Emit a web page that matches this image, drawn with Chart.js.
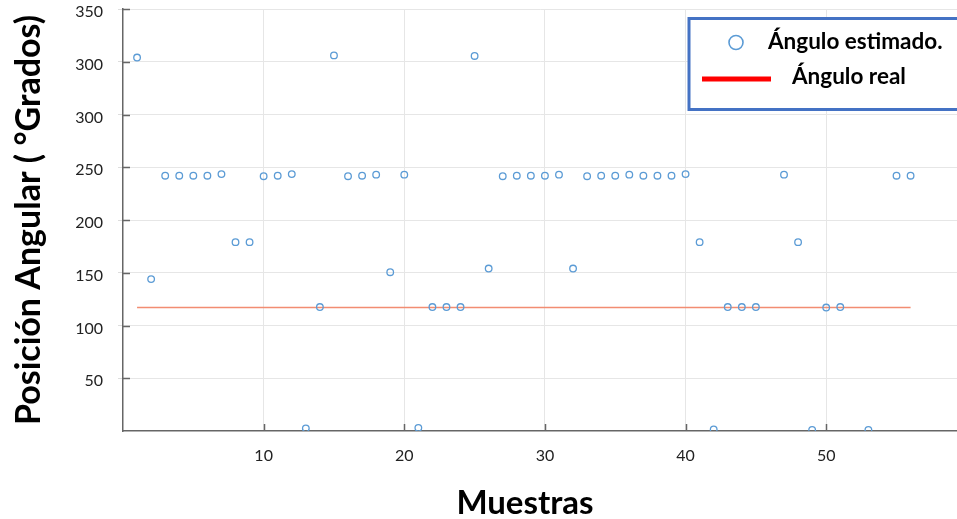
<!DOCTYPE html>
<html>
<head>
<meta charset="utf-8">
<script src="https://cdn.jsdelivr.net/npm/chart.js@4.4.1/dist/chart.umd.min.js"></script>
<style>
  html, body { margin: 0; padding: 0; background: #ffffff; overflow: hidden; width: 957px; height: 519px; }
  #wrap { width: 957px; height: 519px; position: relative; overflow: hidden; }
  canvas { display: block; }
</style>
</head>
<body>
<div id="wrap"><canvas id="c" width="957" height="519"></canvas></div>
<script>
// Sample numbers (x) and the estimated angular position for each sample (degrees)
const samples = [1, 2, 3, 4, 5, 6, 7, 8, 9, 10,
                 11, 12, 13, 14, 15, 16, 17, 18, 19, 20,
                 21, 22, 23, 24, 25, 26, 27, 28, 29, 30,
                 31, 32, 33, 34, 35, 36, 37, 38, 39, 40,
                 41, 42, 43, 44, 45, 47, 48, 49, 50, 51,
                 53, 55, 56];
const estimatedAngle = [354, 144, 242, 242, 242, 242, 243.5, 179, 179, 241.5,
                        242, 243.5, 2.5, 117.5, 356, 241.5, 242, 243, 150.5, 243,
                        3, 117.5, 117.5, 117.5, 355.5, 154, 241.5, 242, 242, 242,
                        243, 154, 241.5, 242, 242, 243, 242, 242, 242, 243.5,
                        179, 1.5, 117.5, 117.5, 117.5, 243, 179, 1, 117, 117.5,
                        1, 242, 242];

// Real (reference) angle, drawn as a flat line over the sampled range
const realSamples = [1, 56];
const realAngle = [117, 117];

const seriesNames = ['Ángulo estimado.', 'Ángulo real'];
const xTickValues = [10, 20, 30, 40, 50];
const yTickValues = [50, 100, 150, 200, 250, 300, 350, 400];
const yTickLabels = ['50', '100', '150', '200', '250', '300', '300', '350'];
const xTitle = 'Muestras';
const yTitle = 'Posición Angular ( °Grados)';

const FONT = 'Lato, "Open Sans", "Liberation Sans", sans-serif';

// Short inward tick marks on the left and bottom axes
const innerTicks = {
  id: 'innerTicks',
  afterDatasetsDraw(chart) {
    const { ctx, chartArea, scales } = chart;
    ctx.save();
    ctx.strokeStyle = '#666';
    ctx.lineWidth = 1.5;
    ctx.beginPath();
    scales.y.ticks.forEach(t => {
      const y = Math.round(scales.y.getPixelForValue(t.value)) + 0.5;
      ctx.moveTo(chartArea.left, y);
      ctx.lineTo(chartArea.left + 7, y);
    });
    scales.x.ticks.forEach(t => {
      const x = Math.round(scales.x.getPixelForValue(t.value)) + 0.5;
      ctx.moveTo(x, chartArea.bottom);
      ctx.lineTo(x, chartArea.bottom - 7);
    });
    ctx.stroke();
    ctx.restore();
  }
};

// Framed legend inside the plot, plus the x axis title
const boxLegend = {
  id: 'boxLegend',
  afterDraw(chart, args, opts) {
    const { ctx } = chart;
    const ds = chart.data.datasets;
    ctx.save();
    // frame
    ctx.fillStyle = '#ffffff';
    ctx.fillRect(688, 17, 300, 93);
    ctx.strokeStyle = opts.frameColor;
    ctx.lineWidth = 3;
    ctx.strokeRect(689, 18.5, 300, 91);
    // marker entry
    ctx.beginPath();
    ctx.arc(736, 42.5, 7, 0, Math.PI * 2);
    ctx.strokeStyle = ds[0].borderColor;
    ctx.lineWidth = 1.6;
    ctx.stroke();
    // line entry
    ctx.beginPath();
    ctx.moveTo(702, 79);
    ctx.lineTo(771, 79);
    ctx.strokeStyle = opts.lineColor;
    ctx.lineWidth = 5;
    ctx.stroke();
    ctx.fillStyle = '#000';
    ctx.font = 'bold 22.5px ' + FONT;
    ctx.textAlign = 'left';
    ctx.textBaseline = 'middle';
    ctx.fillText(ds[0].label, 768, 42);
    ctx.fillText(ds[1].label, 792, 77);
    // x axis title
    ctx.font = 'bold 33px ' + FONT;
    ctx.textAlign = 'center';
    ctx.textBaseline = 'alphabetic';
    ctx.fillText(opts.xTitle, 525, 514);
    ctx.restore();
  }
};

new Chart(document.getElementById('c'), {
  type: 'scatter',
  data: {
    datasets: [
      {
        label: seriesNames[0],
        data: samples.map((s, i) => ({ x: s, y: estimatedAngle[i] })),
        showLine: false,
        pointStyle: 'circle',
        pointRadius: 3.3,
        pointHoverRadius: 3.3,
        pointBorderWidth: 1.3,
        borderColor: '#5b9bd5',
        backgroundColor: 'rgba(0,0,0,0)',
        order: 1
      },
      {
        label: seriesNames[1],
        data: realSamples.map((s, i) => ({ x: s, y: realAngle[i] })),
        showLine: true,
        pointRadius: 0,
        pointHoverRadius: 0,
        borderColor: '#f28d72',
        borderWidth: 1.6,
        backgroundColor: '#f28d72',
        order: 2
      }
    ]
  },
  options: {
    responsive: false,
    devicePixelRatio: 1,
    animation: false,
    layout: { autoPadding: false, padding: { top: 9, right: 0, bottom: 0, left: 0 } },
    plugins: {
      legend: { display: false },
      tooltip: { enabled: false },
      boxLegend: { frameColor: '#4472c4', lineColor: '#ff0000', xTitle: xTitle }
    },
    scales: {
      x: {
        type: 'linear',
        min: 0,
        max: 59.3,
        afterBuildTicks: s => { s.ticks = xTickValues.map(v => ({ value: v })); },
        afterFit: s => { s.height = 88; s.paddingLeft = 0; s.paddingRight = 0; },
        grid: { color: '#e6e6e6', lineWidth: 1, drawTicks: false },
        border: { color: '#666', width: 1.5 },
        ticks: { color: '#222', font: { family: FONT, size: 16 }, padding: 15, maxRotation: 0 }
      },
      y: {
        type: 'linear',
        min: 0,
        max: 400,
        afterBuildTicks: s => { s.ticks = yTickValues.map(v => ({ value: v })); },
        afterFit: s => { s.width = 123; s.paddingTop = 0; s.paddingBottom = 0; },
        grid: { color: '#e6e6e6', lineWidth: 1, tickColor: '#dddddd', tickLength: 5 },
        border: { color: '#666', width: 1.5 },
        ticks: {
          color: '#222',
          font: { family: FONT, size: 16 },
          padding: 15,
          labelOffset: 3,
          callback: v => yTickLabels[yTickValues.indexOf(v)]
        },
        title: {
          display: true,
          text: yTitle,
          color: '#000',
          font: { family: FONT, size: 34, weight: 'bold', lineHeight: 1.2 },
          padding: { top: 9, bottom: 0 }
        }
      }
    }
  },
  plugins: [innerTicks, boxLegend]
});
</script>
</body>
</html>
